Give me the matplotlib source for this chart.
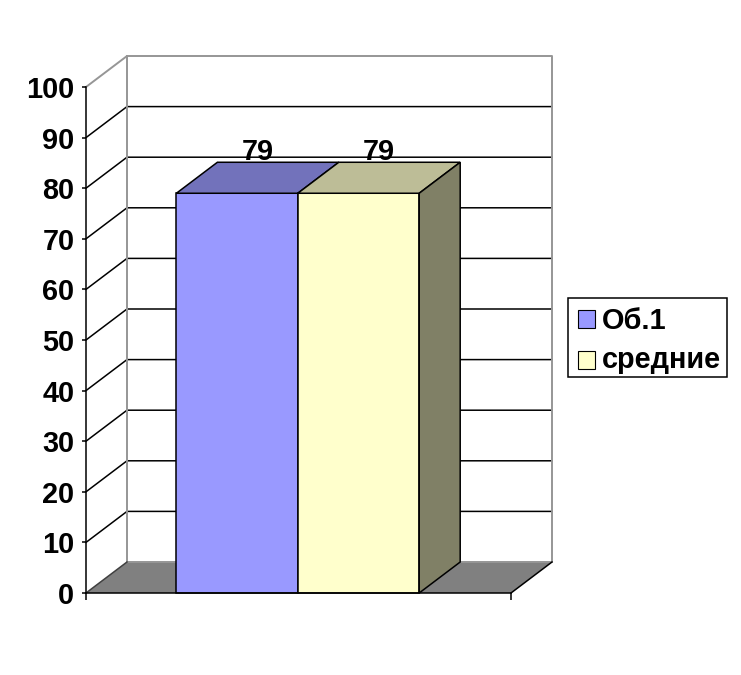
import matplotlib
matplotlib.use("Agg")
import matplotlib.pyplot as plt
import numpy as np
from matplotlib.patches import Polygon, Rectangle

plt.rcParams["font.family"] = ["Liberation Sans", "DejaVu Sans"]
plt.rcParams["font.weight"] = "bold"

series_names = ["Об.1", "средние"]
series_values = [79, 79]
series_colors = ["#9999ff", "#ffffcc"]
top_colors = ["#7272bb", "#bdbd97"]
side_color = "#808066"
y_ticks = list(range(0, 101, 10))

W, H = 741, 675
# depth of the fake 3d box, in axis units
DX = 41 / 425
DY = 31 / 5.06
BAR_W = 121.4 / 425
CENTER = 211.8 / 425
LW = 1.1
FS = 20.8


def poly(ax, pts, fc, ec="k", z=2, lw=LW):
    ax.add_patch(Polygon(pts, closed=True, facecolor=fc, edgecolor=ec, lw=lw, zorder=z, clip_on=False))


def fig_box(x0, y0, x1, y1, **kw):
    # pixel box, y from the top of the image
    return Rectangle((x0 / W, 1 - y1 / H), (x1 - x0) / W, (y1 - y0) / H, transform=fig.transFigure, **kw)


fig = plt.figure(figsize=(W / 100, H / 100), dpi=100)
ax = fig.add_axes([86 / W, (H - 593) / H, 425 / W, 506 / H])
ax.set_xlim(0, 1)
ax.set_ylim(0, 100)
ax.patch.set_visible(False)

# floor
poly(ax, [(0, 0), (1, 0), (1 + DX, DY), (DX, DY)], "#808080", ec="none", z=1)
ax.plot([1, 1 + DX], [0, DY], color="k", lw=LW, zorder=1.5, clip_on=False)
ax.plot([0, DX], [0, DY], color="#404040", lw=LW, zorder=1.5, clip_on=False)

# walls
for v in y_ticks[1:-1]:
    ax.plot([0, DX, 1 + DX], [v, v + DY, v + DY], color="k", lw=LW, zorder=1, clip_on=False)
ax.plot([0, DX, 1 + DX, 1 + DX, DX, DX], [100, 100 + DY, 100 + DY, DY, DY, 100 + DY],
        color="#969696", lw=1.4, zorder=1.2, clip_on=False)

# bars
x_pos = CENTER + (np.arange(len(series_values)) - 0.5) * BAR_W
for i, (x, val) in enumerate(zip(x_pos, series_values)):
    l, r = x - BAR_W / 2, x + BAR_W / 2
    ax.bar(x, val, BAR_W, color=series_colors[i], edgecolor="k", lw=LW, zorder=3 + i, clip_on=False)
    poly(ax, [(l, val), (r, val), (r + DX, val + DY), (l + DX, val + DY)], top_colors[i], z=3 + i)
    if i == len(series_values) - 1:
        poly(ax, [(r, 0), (r + DX, DY), (r + DX, val + DY), (r, val)], side_color, z=3 + i)
    ax.text(x + DX / 2, val + DY - 0.8, str(val), ha="center", va="bottom", fontsize=FS, zorder=2.5)

for s in ["top", "right"]:
    ax.spines[s].set_visible(False)
for s in ["left", "bottom"]:
    ax.spines[s].set_linewidth(LW)
    ax.spines[s].set_zorder(6)
ax.set_yticks(y_ticks)
ax.set_xticks([0, 1])
ax.set_xticklabels([])
ax.tick_params(axis="y", length=3, width=LW, labelsize=FS, pad=5.4)
ax.tick_params(axis="x", length=5.2, width=LW)

# legend box, placed by hand so the rows sit where they do in the picture
fig.add_artist(fig_box(567.5, 297.5, 727, 377, facecolor="white", edgecolor="k", lw=LW))
swatch_tops = [310, 351]
baselines = [329, 368]
for name, c, st, base in zip(series_names, series_colors, swatch_tops, baselines):
    fig.add_artist(fig_box(578, st, 595, st + 17.5, facecolor=c, edgecolor="k", lw=0.8))
    fig.text(602 / W, 1 - base / H, name, fontsize=FS, va="baseline", ha="left")

fig.savefig("out.png", dpi=100, facecolor="white")
